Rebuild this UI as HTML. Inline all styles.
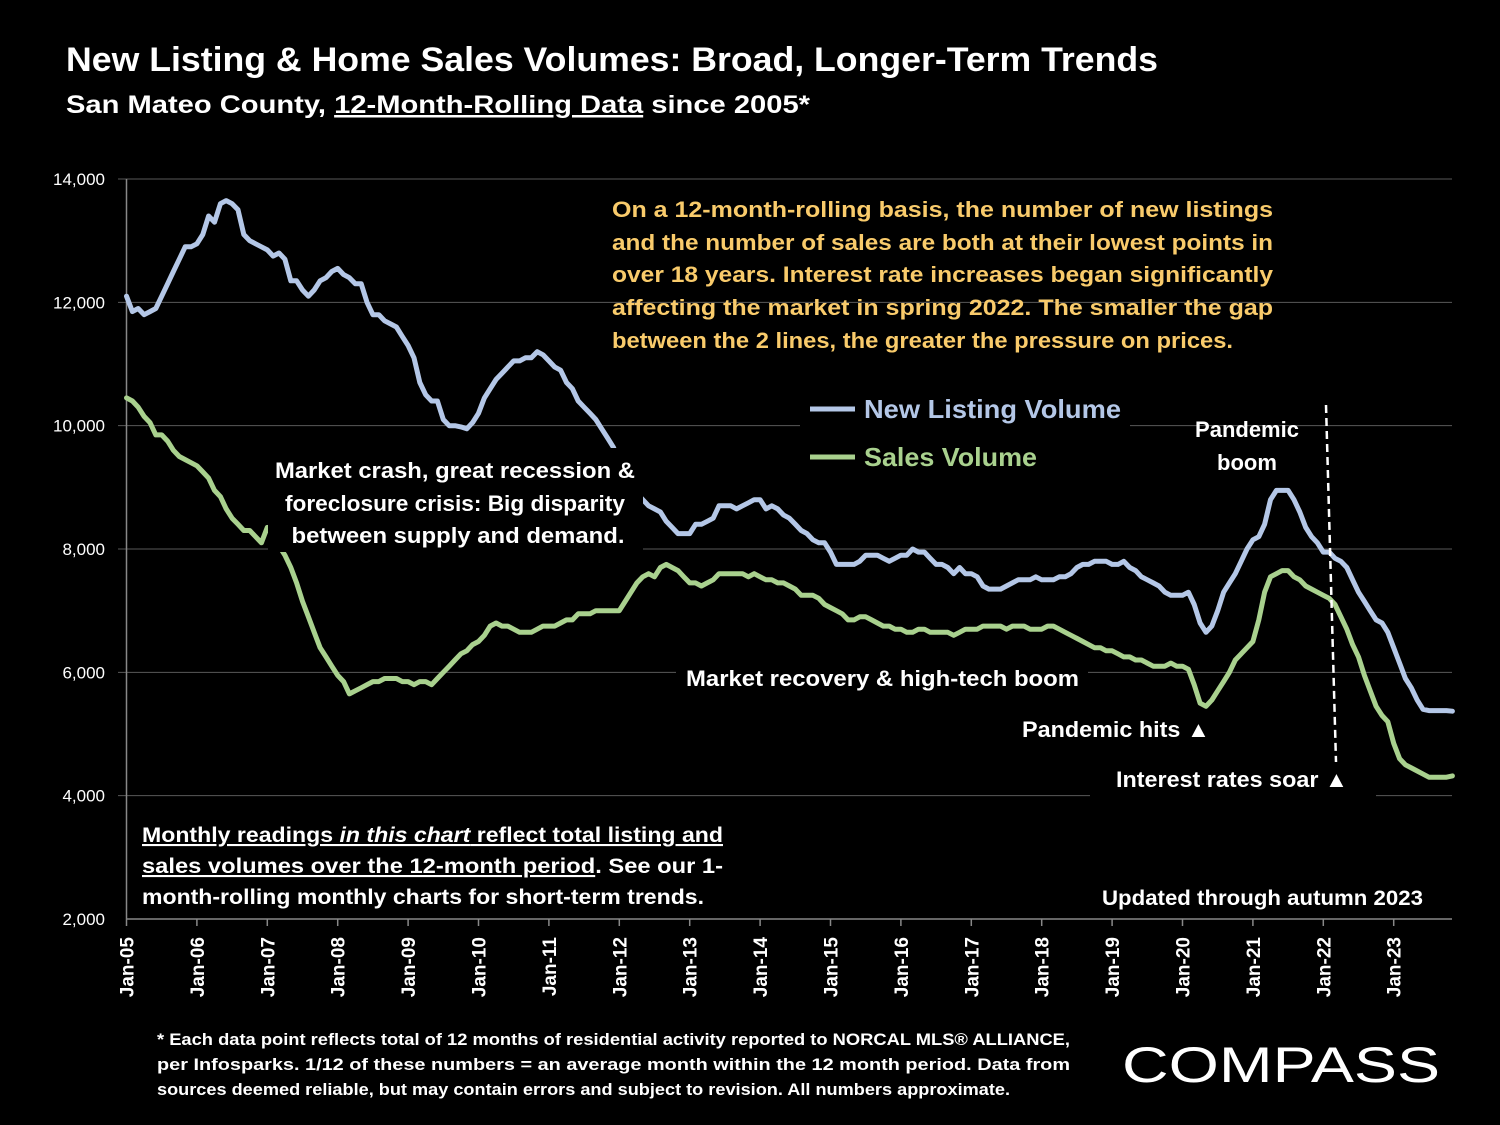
<!DOCTYPE html>
<html><head><meta charset="utf-8"><style>
body{margin:0;background:#000;}
svg{display:block;font-family:"Liberation Sans",sans-serif;font-weight:bold;}
</style></head><body>
<svg id="chart" width="1500" height="1125" viewBox="0 0 1500 1125" xmlns="http://www.w3.org/2000/svg">
<rect width="1500" height="1125" fill="#000"/>
<text x="66" y="71" fill="#fff" font-size="34" textLength="1092" lengthAdjust="spacingAndGlyphs">New Listing &amp; Home Sales Volumes: Broad, Longer-Term Trends</text>
<text x="66" y="113" fill="#fff" font-size="25" textLength="744" lengthAdjust="spacingAndGlyphs">San Mateo County, <tspan text-decoration="underline">12-Month-Rolling Data</tspan> since 2005*</text>
<g id="grid"></g>
<g id="series"></g>
<g id="annot">
<rect x="268" y="448" width="375" height="104" fill="#000"/>
<text fill="#fff" font-size="22" text-anchor="middle">
<tspan x="458" y="478" textLength="360" lengthAdjust="spacingAndGlyphs">Market crash,  great recession &amp;</tspan>
<tspan x="458" y="511" textLength="340" lengthAdjust="spacingAndGlyphs">foreclosure crisis: Big disparity</tspan>
<tspan x="458" y="543" textLength="333" lengthAdjust="spacingAndGlyphs">between supply and demand.</tspan></text>
<rect x="676" y="658" width="412" height="40" fill="#000"/>
<text x="686" y="686" fill="#fff" font-size="22" textLength="393" lengthAdjust="spacingAndGlyphs">Market recovery &amp; high-tech boom</text>
<rect x="800" y="385" width="330" height="92" fill="#000"/>
<line x1="810" y1="409" x2="855" y2="409" stroke="#b4c7e7" stroke-width="5"/>
<text x="864" y="418" fill="#b4c7e7" font-size="26" textLength="257" lengthAdjust="spacingAndGlyphs">New Listing Volume</text>
<line x1="810" y1="457" x2="855" y2="457" stroke="#a9d18e" stroke-width="5"/>
<text x="864" y="466" fill="#a9d18e" font-size="26" textLength="173" lengthAdjust="spacingAndGlyphs">Sales Volume</text>
<text fill="#f9cb6b" font-size="22">
<tspan x="612" y="217" textLength="661" lengthAdjust="spacingAndGlyphs">On a 12-month-rolling basis, the number of new listings</tspan>
<tspan x="612" y="250" textLength="661" lengthAdjust="spacingAndGlyphs">and the number of sales are both at their lowest points in</tspan>
<tspan x="612" y="282" textLength="661" lengthAdjust="spacingAndGlyphs">over 18 years. Interest rate increases began significantly</tspan>
<tspan x="612" y="315" textLength="661" lengthAdjust="spacingAndGlyphs">affecting the market in spring 2022. The smaller the gap</tspan>
<tspan x="612" y="348" textLength="621" lengthAdjust="spacingAndGlyphs">between the 2 lines, the greater the pressure on prices.</tspan></text>
<text fill="#fff" font-size="22" text-anchor="middle">
<tspan x="1247" y="437">Pandemic</tspan><tspan x="1247" y="470">boom</tspan></text>
<line x1="1326" y1="405" x2="1336" y2="762" stroke="#fff" stroke-width="2.5" stroke-dasharray="8,5"/>
<text x="1022" y="737" fill="#fff" font-size="22" textLength="188" lengthAdjust="spacingAndGlyphs">Pandemic hits ▲</text>
<rect x="1090" y="765" width="286" height="32" fill="#000"/>
<text x="1116" y="787" fill="#fff" font-size="22" textLength="232" lengthAdjust="spacingAndGlyphs">Interest rates soar ▲</text>
<rect x="135" y="815" width="600" height="100" fill="#000"/>
<text fill="#fff" font-size="21">
<tspan x="142" y="842" textLength="581" lengthAdjust="spacingAndGlyphs" text-decoration="underline">Monthly readings <tspan font-style="italic">in this chart</tspan> reflect total listing and</tspan>
<tspan x="142" y="873" textLength="581" lengthAdjust="spacingAndGlyphs"><tspan text-decoration="underline">sales volumes over the 12-month period</tspan>. See our 1-</tspan>
<tspan x="142" y="904" textLength="562" lengthAdjust="spacingAndGlyphs">month-rolling monthly charts for short-term trends.</tspan></text>
<text x="1102" y="905" fill="#fff" font-size="21" textLength="321" lengthAdjust="spacingAndGlyphs">Updated through autumn 2023</text>
<text fill="#fff" font-size="16.5">
<tspan x="157" y="1045" textLength="913" lengthAdjust="spacingAndGlyphs">* Each data point reflects total of 12 months of residential activity reported to NORCAL MLS® ALLIANCE,</tspan>
<tspan x="157" y="1070" textLength="913" lengthAdjust="spacingAndGlyphs">per Infosparks. 1/12 of these numbers = an average month within the 12 month period. Data from</tspan>
<tspan x="157" y="1095" textLength="853" lengthAdjust="spacingAndGlyphs">sources deemed reliable, but may contain errors and subject to revision. All numbers approximate.</tspan></text>
<text x="1122" y="1082" fill="#fff" font-size="50" font-weight="normal" textLength="318" lengthAdjust="spacingAndGlyphs">COMPASS</text>
</g>
</svg>
<script>
const yTicks=[2000,4000,6000,8000,10000,12000,14000];
const yearLabels=["Jan-05","Jan-06","Jan-07","Jan-08","Jan-09","Jan-10","Jan-11","Jan-12","Jan-13","Jan-14","Jan-15","Jan-16","Jan-17","Jan-18","Jan-19","Jan-20","Jan-21","Jan-22","Jan-23"];
const listings=[
12100,11850,11900,11800,11850,11900,12100,12300,12500,12700,12900,12900,
12950,13100,13400,13300,13600,13650,13600,13500,13100,13000,12950,12900,
12850,12750,12800,12700,12350,12350,12200,12100,12200,12350,12400,12500,
12550,12450,12400,12300,12300,12000,11800,11800,11700,11650,11600,11450,
11300,11100,10700,10500,10400,10400,10100,10000,10000,9980,9950,10050,
10200,10450,10600,10750,10850,10950,11050,11050,11100,11100,11200,11150,
11050,10950,10900,10700,10600,10400,10300,10200,10100,9950,9800,9650,
9400,9200,9000,8900,8800,8700,8650,8600,8450,8350,8250,8250,
8250,8400,8400,8450,8500,8700,8700,8700,8650,8700,8750,8800,
8800,8650,8700,8650,8550,8500,8400,8300,8250,8150,8100,8100,
7950,7750,7750,7750,7750,7800,7900,7900,7900,7850,7800,7850,
7900,7900,8000,7950,7950,7850,7750,7750,7700,7600,7700,7600,
7600,7550,7400,7350,7350,7350,7400,7450,7500,7500,7500,7550,
7500,7500,7500,7550,7550,7600,7700,7750,7750,7800,7800,7800,
7750,7750,7800,7700,7650,7550,7500,7450,7400,7300,7250,7250,
7250,7300,7100,6800,6650,6750,7000,7300,7450,7600,7800,8000,
8150,8200,8400,8800,8950,8950,8950,8800,8600,8350,8200,8100,
7950,7950,7850,7800,7700,7500,7300,7150,7000,6850,6800,6650,
6400,6150,5900,5750,5550,5400,5380,5380,5380,5380,5370];
const sales=[
10450,10400,10300,10150,10050,9850,9850,9750,9600,9500,9450,9400,
9350,9250,9150,8950,8850,8650,8500,8400,8300,8300,8200,8100,
8350,8200,8050,7900,7700,7450,7150,6900,6650,6400,6250,6100,
5950,5850,5650,5700,5750,5800,5850,5850,5900,5900,5900,5850,
5850,5800,5850,5850,5800,5900,6000,6100,6200,6300,6350,6450,
6500,6600,6750,6800,6750,6750,6700,6650,6650,6650,6700,6750,
6750,6750,6800,6850,6850,6950,6950,6950,7000,7000,7000,7000,
7000,7150,7300,7450,7550,7600,7550,7700,7750,7700,7650,7550,
7450,7450,7400,7450,7500,7600,7600,7600,7600,7600,7550,7600,
7550,7500,7500,7450,7450,7400,7350,7250,7250,7250,7200,7100,
7050,7000,6950,6850,6850,6900,6900,6850,6800,6750,6750,6700,
6700,6650,6650,6700,6700,6650,6650,6650,6650,6600,6650,6700,
6700,6700,6750,6750,6750,6750,6700,6750,6750,6750,6700,6700,
6700,6750,6750,6700,6650,6600,6550,6500,6450,6400,6400,6350,
6350,6300,6250,6250,6200,6200,6150,6100,6100,6100,6150,6100,
6100,6050,5800,5500,5450,5550,5700,5850,6000,6200,6300,6400,
6500,6850,7300,7550,7600,7650,7650,7550,7500,7400,7350,7300,
7250,7200,7100,6900,6700,6450,6250,5950,5700,5450,5300,5200,
4850,4600,4500,4450,4400,4350,4300,4300,4300,4300,4320];
const NS="http://www.w3.org/2000/svg";
const X0=126.5,PXM=70.4/12,Y0=919,PXV=740/12000;
function xs(i){return X0+i*PXM;}
function ys(v){return Y0-(v-2000)*PXV;}
const grid=document.getElementById('grid'),ser=document.getElementById('series');
function mk(tag,attrs,parent){const e=document.createElementNS(NS,tag);for(const k in attrs)e.setAttribute(k,attrs[k]);parent.appendChild(e);return e;}
yTicks.forEach(v=>{
  const y=ys(v);
  if(v>2000){const l=mk('line',{x1:118,x2:1452,y1:y,y2:y,stroke:'#595959','stroke-width':1},grid);
  
  }
  const t=mk('text',{x:105,y:y+6,fill:'#fff','font-size':17,'font-weight':'normal','text-anchor':'end'},grid);
  
  
  t.textContent=v.toLocaleString('en-US');
});
const ax=mk('line',{x1:X0,x2:X0,y1:ys(14000),y2:Y0,stroke:'#888','stroke-width':1.5},grid);


const xa=mk('line',{x1:X0,x2:1452,y1:Y0,y2:Y0,stroke:'#888','stroke-width':1.5},grid);


yearLabels.forEach((lab,k)=>{
  const x=xs(k*12);
  const tk=mk('line',{x1:x,x2:x,y1:Y0,y2:Y0+7,stroke:'#888','stroke-width':1.5},grid);
  
  
  const t=mk('text',{x:0,y:0,fill:'#fff','font-size':19,'text-anchor':'end',transform:`translate(${x+7},937) rotate(-90)`},grid);
  
  
  t.textContent=lab;
});
function line(data,color,name){
  const d=data.map((v,i)=>(i?'L':'M')+xs(i).toFixed(1)+','+ys(v).toFixed(1)).join(' ');
  const p=mk('path',{d:d,fill:'none',stroke:color,'stroke-width':5,'stroke-linejoin':'round','stroke-linecap':'round'},ser);
  
  
}
line(listings,'#b4c7e7','new-listing-line');
line(sales,'#a9d18e','sales-line');
</script>
</body></html>
